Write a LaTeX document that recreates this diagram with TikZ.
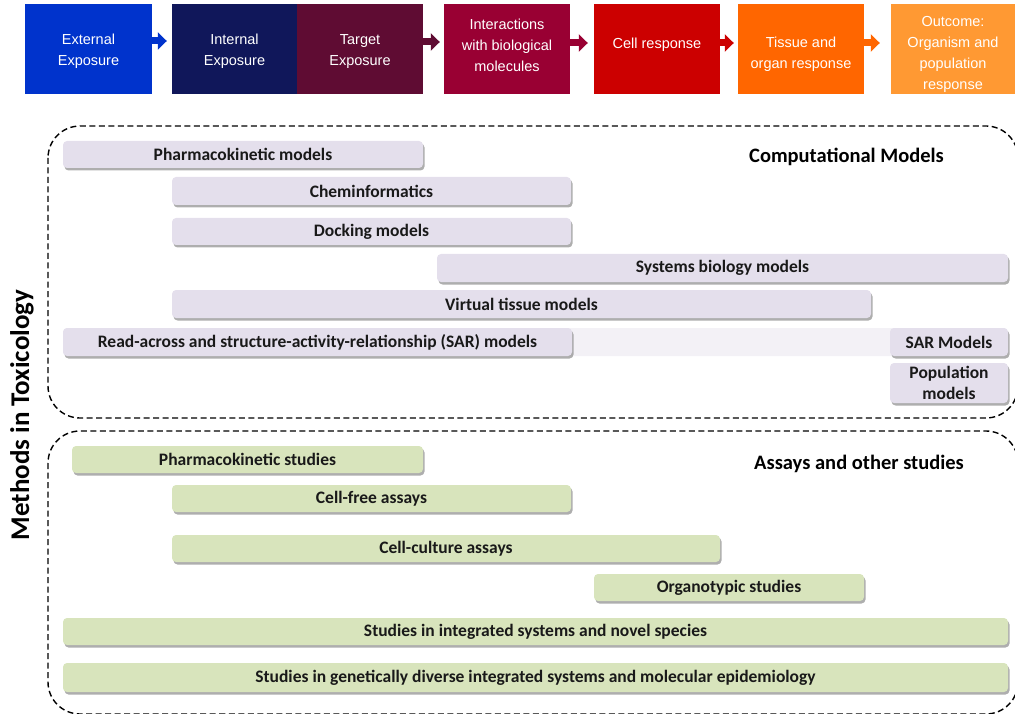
\documentclass[tikz,border=0pt]{standalone}
\usepackage{fontspec}
\usetikzlibrary{shadows,arrows.meta}
\newfontfamily\arialf{Liberation Sans}
\newfontfamily\calib{Carlito}
\definecolor{cExt}{HTML}{0033CC}
\definecolor{cInt}{HTML}{10175A}
\definecolor{cTgt}{HTML}{5F0C33}
\definecolor{cInter}{HTML}{990033}
\definecolor{cCell}{HTML}{CC0000}
\definecolor{cTis}{HTML}{FF6600}
\definecolor{cOut}{HTML}{FF9933}
\definecolor{lav}{HTML}{E4DFEC}
\definecolor{palelav}{HTML}{F3F1F6}
\definecolor{grn}{HTML}{D8E4BC}
\tikzset{
  topbox/.style={minimum height=90pt, inner sep=0pt},
  toptext/.style={inner sep=0pt, text=white, align=center,
    font=\arialf\fontsize{14.5}{21}\selectfont},
  flowarrow/.style={line width=7pt, -{Triangle[width=17pt,length=9pt]}},
  barbase/.style={rounded corners=4pt, inner sep=0pt, text=black!90, align=center,
    font=\calib\bfseries\fontsize{17.5}{21}\selectfont},
  shad/.style={drop shadow={shadow xshift=1.5pt, shadow yshift=-2.5pt, fill=black!45, opacity=0.7}},
  cbar/.style={barbase, shad, fill=lav},
  gbar/.style={barbase, shad, fill=grn},
  heading/.style={font=\calib\bfseries\fontsize{20.5}{24}\selectfont, text=black},
  groupbox/.style={dashed, dash pattern=on 6pt off 3.5pt, line width=1.4pt, rounded corners=32pt},
}
\begin{document}
\begin{tikzpicture}[x=1pt,y=-1pt]
\useasboundingbox (0,0) rectangle (1015,714);
\clip (0,0) rectangle (1015,714);
% top flow boxes
\node[topbox, fill=cExt, minimum width=127pt] (ext) at (88.5,49) {};
\node[topbox, fill=cInt, minimum width=125pt] (int) at (234.5,49) {};
\node[topbox, fill=cTgt, minimum width=126pt] (tgt) at (360,49) {};
\node[topbox, fill=cInter, minimum width=126pt] (inter) at (507,49) {};
\node[topbox, fill=cCell, minimum width=126pt] (cell) at (657,49) {};
\node[topbox, fill=cTis, minimum width=126pt] (tis) at (801,49) {};
\node[topbox, fill=cOut, minimum width=124pt] (out) at (953,49) {};
% top flow texts
\node[toptext] (extT) at (88.5,51.5) {External\\Exposure};
\node[toptext] (intT) at (234.5,51.5) {Internal\\Exposure};
\node[toptext] (tgtT) at (360,51.5) {Target\\Exposure};
\node[toptext] (interT) at (507,45) {Interactions\\with biological\\molecules};
\node[toptext] (cellT) at (657,45) {Cell response};
\node[toptext] (tisT) at (801,54) {Tissue and\\organ response};
\node[toptext] (outT) at (953,54) {Outcome:\\Organism and\\population\\response};
% arrows
\draw[flowarrow, cExt] ([yshift=8pt]ext.east) -- ([yshift=8pt,xshift=-5pt]int.west);
\draw[flowarrow, cTgt] ([yshift=7pt]tgt.east) -- ([yshift=7pt,xshift=-4pt]inter.west);
\draw[flowarrow, cInter] ([yshift=6pt]inter.east) -- ([yshift=6pt,xshift=-6pt]cell.west);
\draw[flowarrow, cCell] ([yshift=6pt]cell.east) -- ([yshift=6pt,xshift=-4pt]tis.west);
\draw[flowarrow, cTis] ([yshift=6pt]tis.east) -- ([yshift=6pt,xshift=-11pt]out.west);
% group boxes
\draw[groupbox] (48,126) rectangle (1018,418);
\draw[groupbox] (48,431) rectangle (1018,714);
\node[heading, rotate=90, font=\calib\bfseries\fontsize{27}{30}\selectfont] (meth) at (22,415) {Methods in Toxicology};
\node[heading] (comp) at (846.5,157) {Computational Models};
\node[heading] (assay) at (859,464) {Assays and other studies};
% computational bars
\node[cbar, minimum width=360pt, minimum height=27pt] (pkm) at (243,154.5) {Pharmacokinetic models};
\node[cbar, minimum width=399pt, minimum height=28pt] (chem) at (371.5,191) {Cheminformatics};
\node[cbar, minimum width=399pt, minimum height=27pt] (dock) at (371.5,231.5) {Docking models};
\node[cbar, minimum width=571pt, minimum height=28pt] (sys) at (722.5,268) {Systems biology models};
\node[cbar, minimum width=699pt, minimum height=28pt] (vtm) at (521.5,304) {Virtual tissue models};
\node[barbase, fill=palelav, minimum width=945pt, minimum height=28pt] (pale) at (535.5,342) {};
\node[cbar, minimum width=509pt, minimum height=28pt] (rasar) at (317.5,342) {Read-across and structure-activity-relationship (SAR) models};
\node[cbar, minimum width=118pt, minimum height=28pt] (sar) at (949,342) {SAR Models};
\node[cbar, minimum width=118pt, minimum height=40pt] (pop) at (949,383) {Population\\models};
% assay bars
\node[gbar, minimum width=351pt, minimum height=27pt] (pks) at (247.5,459.5) {Pharmacokinetic studies};
\node[gbar, minimum width=399pt, minimum height=27pt] (cfa) at (371.5,498.5) {Cell-free assays};
\node[gbar, minimum width=548pt, minimum height=27pt] (cca) at (446,548.5) {Cell-culture assays};
\node[gbar, minimum width=270pt, minimum height=27pt] (org) at (729,587.5) {Organotypic studies};
\node[gbar, minimum width=945pt, minimum height=27pt] (sis) at (535.5,631.5) {Studies in integrated systems and novel species};
\node[gbar, minimum width=945pt, minimum height=29pt] (sgd) at (535.5,677.5) {Studies in genetically diverse integrated systems and molecular epidemiology};
\end{tikzpicture}
\end{document}
